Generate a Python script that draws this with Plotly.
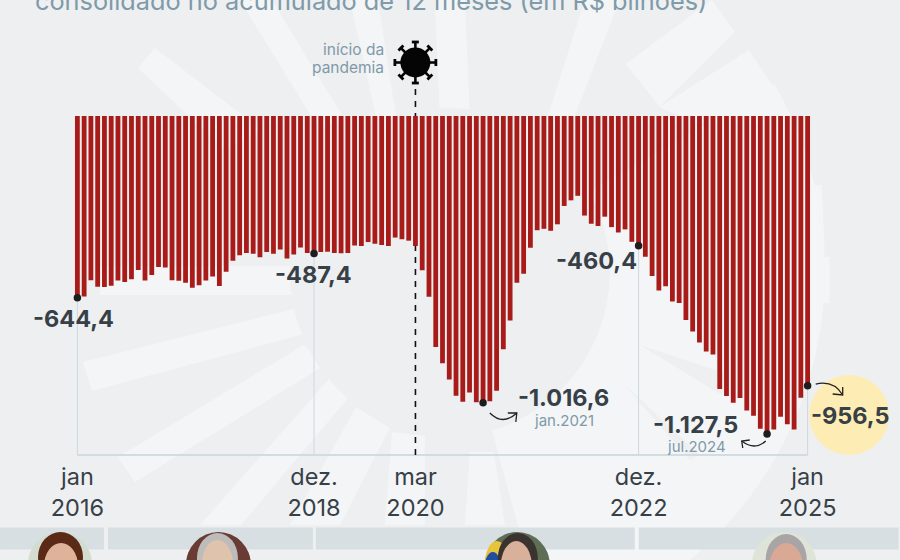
import numpy as np
import plotly.graph_objects as go

# deficit nominal do setor publico consolidado, acumulado em 12 meses (R$ bilhoes)
month_names = ["jan", "fev", "mar", "abr", "mai", "jun", "jul", "ago", "set", "out", "nov", "dez"]
years = list(range(2016, 2025))
months = [f"{m}/{y}" for y in years for m in month_names] + ["jan/2025"]

values = [
    -644.4, -640, -582, -605, -606, -602, -583, -589, -579, -546, -583, -564,
    -535, -537, -582, -584, -591, -609, -600, -583, -569, -603, -552, -513,
    -494, -486, -488, -501, -482, -488, -473, -505, -491, -466, -486, -487.4,
    -482, -481, -486, -487, -486, -459, -461, -447, -453, -457, -461, -431,
    -437, -442, -461, -547, -641, -819, -877, -934, -992, -1013, -980, -1015,
    -1016.6, -1011, -974, -827, -725, -591, -559, -467, -405, -400, -407, -384,
    -319, -299, -283, -353, -382, -390, -357, -394, -413, -402, -446, -460.4,
    -499, -567, -619, -604, -658, -663, -723, -764, -803, -835, -846, -968,
    -993, -1017, -1000, -1044, -1063, -1109, -1127.5, -1112, -1066, -1093, -1112, -999,
    -956.5,
]

tick_months = ["jan/2016", "dez/2018", "mar/2020", "dez/2022", "jan/2025"]
tick_labels = ["jan<br>2016", "dez.<br>2018", "mar<br>2020", "dez.<br>2022", "jan<br>2025"]
grid_months = ["jan/2016", "dez/2018", "dez/2022", "jan/2025"]

dot_months = ["jan/2016", "dez/2018", "jan/2021", "dez/2022", "jul/2024", "jan/2025"]
dot_values = [-644.4, -487.4, -1016.6, -460.4, -1127.5, -956.5]

title_text = "consolidado no acumulado de 12 meses (em R$ bilhões)"

BG = "#eeeff1"
RAY = "#f3f5f7"
DARK = "#373f47"
BLUE_GREY = "#7f9aa8"
RED = "#a81b18"

# plot area in page pixels
L, T, R, B = 74, 116, 811.3, 455


def px(x):
    return (x - L) / (R - L)


def py(y):
    return 1 - (y - T) / (B - T)


def poly(points):
    return "M " + " L ".join(f"{px(x):.4f},{py(y):.4f}" for x, y in points) + " Z"


def open_path(points):
    return "M " + " L ".join(f"{px(x):.4f},{py(y):.4f}" for x, y in points)


def curve(p0, c, p1):
    return (f"M {px(p0[0]):.4f},{py(p0[1]):.4f} Q {px(c[0]):.4f},{py(c[1]):.4f} "
            f"{px(p1[0]):.4f},{py(p1[1]):.4f}")


def circle(cx, cy, rx, ry, color):
    return dict(type="circle", xref="paper", yref="paper", layer="below",
                x0=px(cx - rx), x1=px(cx + rx), y0=py(cy + ry), y1=py(cy - ry),
                fillcolor=color, line=dict(width=0))


def rect(x0, y0, x1, y1, color, layer="below"):
    return dict(type="rect", xref="paper", yref="paper", layer=layer,
                x0=px(x0), x1=px(x1), y0=py(y1), y1=py(y0),
                fillcolor=color, line=dict(width=0))


shapes = []

# sunburst behind the chart
rays = [
    [(138, 68), (155, 48), (262, 130), (225, 150)],
    [(83, 362), (301, 307), (304, 334), (92, 391)],
    [(100, 266), (296, 266), (296, 295), (100, 295)],
    [(118, 457), (304, 345), (327, 364), (135, 482)],
    [(200, 525), (330, 378), (350, 396), (241, 525)],
    [(290, 525), (356, 407), (390, 428), (340, 525)],
    [(385, 525), (392, 432), (425, 436), (425, 525)],
    [(465, 525), (470, 452), (494, 452), (505, 525)],
    [(505, 455), (520, 452), (575, 525), (551, 525)],
    [(551, 440), (570, 425), (677, 525), (632, 525)],
    [(240, 0), (272, 0), (345, 120), (320, 130)],
    [(350, 0), (378, 0), (396, 116), (376, 116)],
    [(435, 0), (465, 0), (470, 116), (440, 116)],
    [(585, 0), (620, 0), (575, 116), (548, 116)],
    [(626, 64), (712, 0), (735, 32), (660, 107)],
    [(660, 107), (749, 50), (778, 93), (700, 125)],
    [(812, 257), (830, 257), (830, 303), (812, 303)],
    [(812, 185), (822, 185), (825, 250), (812, 250)],
]
for ray in rays:
    shapes.append(dict(type="path", xref="paper", yref="paper", layer="below",
                       path=poly(ray), fillcolor=RAY, line=dict(width=0)))

# lighter sector on the lower right, around the hub
angles = np.radians(np.linspace(-30, 75, 40))
outer = [(450 + 375 * np.cos(a), 272 + 375 * np.sin(a)) for a in angles]
inner = [(450 + 150 * np.cos(a), 272 + 150 * np.sin(a)) for a in angles[::-1]]
shapes.append(dict(type="path", xref="paper", yref="paper", layer="below",
                   path=poly(outer + inner), fillcolor=RAY, line=dict(width=0)))
for ray in [[(640, 345), (730, 375), (722, 395)], [(625, 385), (700, 455), (690, 460)]]:
    shapes.append(dict(type="path", xref="paper", yref="paper", layer="below",
                       path=poly(ray), fillcolor=BG, line=dict(width=0)))
shapes.append(circle(450, 272, 160, 164, BG))

# band with the four governments
shapes.append(rect(0, 527.5, 104, 549.5, "#d8dfe2"))
shapes.append(rect(108, 527.5, 313, 549.5, "#d8dfe2"))
shapes.append(rect(316, 527.5, 635, 549.5, "#d8dfe2"))
shapes.append(rect(639, 527.5, 899, 549.5, "#d8dfe2"))

# portraits, only roughed out
shapes += [
    circle(60, 564, 32, 32, "#d3dccf"),
    circle(60.5, 557, 22.5, 25, "#5b2a17"),
    circle(61, 566, 17, 23, "#dfb29a"),
    circle(218.5, 565, 32.5, 33, "#6a3a35"),
    circle(217.5, 558, 20.5, 25, "#bdbcbb"),
    circle(217.5, 564, 15.5, 24, "#e0c3ad"),
    circle(517.5, 565, 32.5, 33, "#5f6f55"),
    circle(497, 565, 12, 24, "#e6c53c"),
    circle(493, 572, 9, 20, "#1f4f9e"),
    circle(518, 558, 20, 25, "#3a3330"),
    circle(516.5, 566, 15.5, 25, "#d9b09a"),
    circle(784.5, 565, 32.5, 33, "#dfe4d8"),
    circle(786.5, 559, 20.5, 25, "#a9a5a6"),
    circle(786.5, 568, 17, 25, "#d9a995"),
]

# yellow circle behind the last value
shapes.append(circle(849.5, 415, 40, 40, "#fdecb4"))

# baseline, month guides and the pandemic marker
shapes.append(dict(type="line", xref="x", yref="paper", layer="below",
                   x0="jan/2016", x1="jan/2025", y0=0, y1=0,
                   line=dict(color="#c8d5da", width=1.5)))
for month in grid_months:
    shapes.append(dict(type="line", xref="x", yref="paper", layer="below",
                       x0=month, x1=month, y0=0, y1=1,
                       line=dict(color="#cdd8dc", width=1)))
shapes.append(dict(type="line", xref="x", yref="paper", layer="below",
                   x0="mar/2020", x1="mar/2020", y0=0, y1=py(84),
                   line=dict(color="#111111", width=1.6, dash="6px,6px")))

# virus icon
vx, vy = 415.5, 62.5
shapes.append(circle(vx, vy, 15, 15, "#050505"))
for k in range(8):
    a = np.pi / 4 * k + np.pi / 2
    ca, sa = np.cos(a), np.sin(a)
    shapes.append(dict(type="path", xref="paper", yref="paper", layer="above",
                       path=open_path([(vx + 12 * ca, vy + 12 * sa), (vx + 20 * ca, vy + 20 * sa)]),
                       line=dict(color="#050505", width=2.6)))
    shapes.append(dict(type="path", xref="paper", yref="paper", layer="above",
                       path=open_path([(vx + 20.5 * ca - 3.5 * sa, vy + 20.5 * sa + 3.5 * ca),
                                       (vx + 20.5 * ca + 3.5 * sa, vy + 20.5 * sa - 3.5 * ca)]),
                       line=dict(color="#050505", width=2.8)))

# small hand-drawn arrows
arrows = [
    ((490, 413), (503, 426), (517, 413), [(508, 413), (517, 413), (516, 422)]),
    ((766, 441), (755, 451), (742, 441), [(750, 440), (742, 441), (743, 448)]),
    ((816, 384), (834, 380), (843, 395), [(833, 394), (843, 395), (843, 387)]),
]
for p0, c, p1, head in arrows:
    shapes.append(dict(type="path", xref="paper", yref="paper", layer="above",
                       path=curve(p0, c, p1), line=dict(color="#222222", width=1.3)))
    shapes.append(dict(type="path", xref="paper", yref="paper", layer="above",
                       path=open_path(head), line=dict(color="#222222", width=1.3)))

fig = go.Figure()
fig.add_trace(go.Bar(x=months, y=values, marker=dict(color=RED, line=dict(width=0)),
                     hovertemplate="%{x}: %{y}<extra></extra>"))
fig.add_trace(go.Scatter(x=dot_months, y=dot_values, mode="markers",
                         marker=dict(color="#1d1d1f", size=7.5), hoverinfo="skip",
                         cliponaxis=False))


def note(text, x, y, size, color=DARK, weight=700, xanchor="center", align="center"):
    fig.add_annotation(text=text, xref="paper", yref="paper", x=px(x), y=py(y),
                       xanchor=xanchor, yanchor="middle", align=align, showarrow=False,
                       font=dict(family="Inter", size=size, color=color, weight=weight))


note(title_text, 33, 0, 25.3, color=BLUE_GREY, weight=400, xanchor="left")
note("início da", 386, 49, 15.5, color=BLUE_GREY, weight=400, xanchor="right", align="right")
note("pandemia", 386, 67, 15.5, color=BLUE_GREY, weight=400, xanchor="right", align="right")
note("-644,4", 73.5, 318, 23.5)
note("-487,4", 313.5, 274, 23.5)
note("-460,4", 597, 260, 23.5)
note("-1.016,6", 564, 397, 23.5)
note("jan.2021", 564.5, 420, 15, color=BLUE_GREY, weight=400)
note("-1.127,5", 696, 424, 23.5)
note("jul.2024", 696.5, 446, 15, color=BLUE_GREY, weight=400)
note("-956,5", 850.5, 415, 23.5)

fig.update_layout(
    width=900, height=560, autosize=False,
    margin=dict(l=L, r=900 - R, t=T, b=560 - B, pad=0),
    paper_bgcolor=BG, plot_bgcolor="rgba(0,0,0,0)",
    showlegend=False, bargap=0.29, shapes=shapes,
    font=dict(family="Inter", color=DARK),
)
fig.update_xaxes(type="category", categoryorder="array", categoryarray=months,
                 range=[-0.5, 108.5], tickmode="array", tickvals=tick_months, ticktext=tick_labels,
                 tickangle=0, ticks="outside", ticklen=1, tickcolor="rgba(0,0,0,0)",
                 tickfont=dict(family="Inter", size=23.5, color=DARK),
                 showgrid=False, showline=False, zeroline=False)
fig.update_yaxes(range=[-1202, 0], visible=False)

# the default page leaves an 8px body margin around the figure
fig.write_html("out.html", config=dict(displayModeBar=False),
               post_script="document.body.style.margin='0';")
